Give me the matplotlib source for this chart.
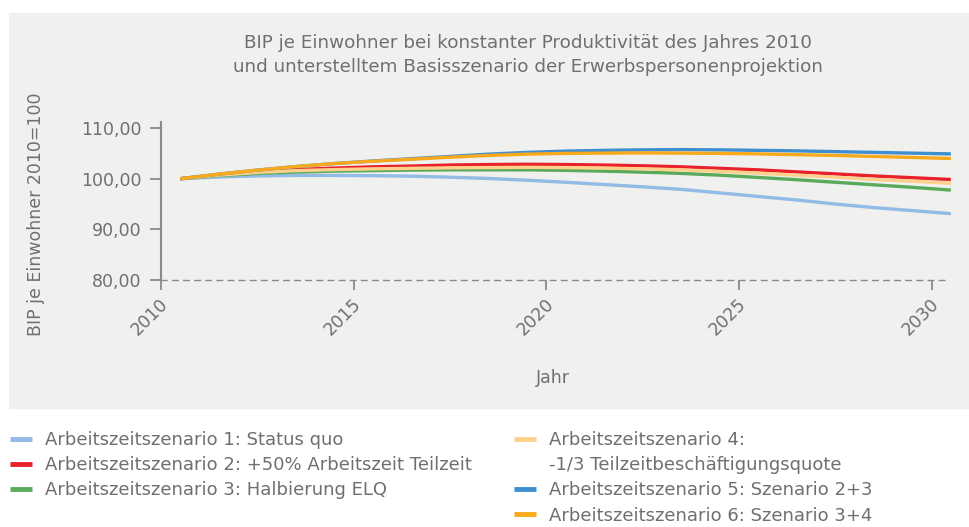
import matplotlib.pyplot as plt
import matplotlib.transforms as mtransforms
from matplotlib.patches import Rectangle
from matplotlib.lines import Line2D

plt.rcParams['font.family'] = ['DejaVu Sans']

# Data (index 2010 = 100)
years = list(range(2010, 2031))
sz1 = [100, 100.35, 100.55, 100.65, 100.65, 100.6, 100.5, 100.3, 100.05, 99.7, 99.3,
       98.85, 98.4, 97.9, 97.2, 96.5, 95.8, 95.0, 94.3, 93.7, 93.1]
sz2 = [100, 100.8, 101.4, 101.8, 102.1, 102.35, 102.5, 102.7, 102.8, 102.85, 102.8,
       102.7, 102.55, 102.35, 102.05, 101.75, 101.35, 100.95, 100.55, 100.2, 99.85]
sz3 = [100, 100.6, 101.05, 101.3, 101.5, 101.6, 101.7, 101.75, 101.75, 101.75, 101.65,
       101.5, 101.3, 101.05, 100.7, 100.25, 99.8, 99.3, 98.8, 98.3, 97.75]
sz4 = [100, 100.7, 101.25, 101.6, 101.8, 101.95, 102.05, 102.15, 102.2, 102.25, 102.2,
       102.1, 101.95, 101.75, 101.45, 101.1, 100.7, 100.3, 99.85, 99.5, 99.1]
sz5 = [100, 100.9, 101.7, 102.4, 103.0, 103.5, 103.95, 104.4, 104.85, 105.2, 105.45,
       105.6, 105.7, 105.75, 105.7, 105.6, 105.5, 105.35, 105.2, 105.05, 104.9]
sz6 = [100, 100.9, 101.7, 102.4, 103.0, 103.45, 103.85, 104.25, 104.6, 104.85, 105.0,
       105.05, 105.1, 105.05, 105.0, 104.9, 104.75, 104.6, 104.4, 104.2, 104.0]

labels = [
    "Arbeitszeitszenario 1: Status quo",
    "Arbeitszeitszenario 2: +50% Arbeitszeit Teilzeit",
    "Arbeitszeitszenario 3: Halbierung ELQ",
    "Arbeitszeitszenario 4:\n-1/3 Teilzeitbeschäftigungsquote",
    "Arbeitszeitszenario 5: Szenario 2+3",
    "Arbeitszeitszenario 6: Szenario 3+4",
]
colors = ['#92bbe6', '#e8212b', '#5aaa5c', '#fdd18c', '#3d8fd0', '#f8aa1c']
series = [sz1, sz2, sz3, sz4, sz5, sz6]

textc = '#6f6f6f'
axc = '#8a8a8a'
fs = 12.5

fig = plt.figure(figsize=(9.7, 5.27), dpi=100)
fig.patches.append(Rectangle((9 / 970, 1 - 408 / 527), 1 - 9 / 970, (408 - 13) / 527,
                             transform=fig.transFigure, color='#f0f0ef', zorder=-10))

ax = fig.add_axes([161 / 970, 1 - 280 / 527, (947 - 161) / 970, (280 - 122) / 527])
ax.set_facecolor('none')

xs = [y + 0.5 for y in years]  # points sit mid-year
handles = []
for vals, col, lab in zip(series, colors, labels):
    ln, = ax.plot(xs, vals, color=col, lw=2.4, label=lab, clip_on=False, solid_capstyle='butt')
    handles.append(ln)

ax.set_xlim(2010, 2030.4)
ax.set_ylim(80, 111.2)
ax.set_xticks([2010, 2015, 2020, 2025, 2030])
ax.set_yticks([80, 90, 100, 110])
ax.set_yticklabels(['80,00', '90,00', '100,00', '110,00'])

for s in ['top', 'right']:
    ax.spines[s].set_visible(False)
ax.spines['left'].set_color(axc)
ax.spines['left'].set_linewidth(1.5)
ax.spines['bottom'].set_color(axc)
ax.spines['bottom'].set_linewidth(1.0)
ax.spines['bottom'].set_linestyle((0, (4, 4)))

ax.tick_params(axis='y', length=8, width=1.3, color=axc, labelsize=fs, labelcolor=textc, pad=6)
ax.tick_params(axis='x', length=7, width=1.3, color=axc, labelsize=fs, labelcolor=textc, pad=4)
offset = mtransforms.ScaledTranslation(-11 / 100, 0, fig.dpi_scale_trans)
for t in ax.get_xticklabels():
    t.set_rotation(45)
    t.set_transform(t.get_transform() + offset)

fig.text(528 / 970, 1 - 55 / 527,
         "BIP je Einwohner bei konstanter Produktivität des Jahres 2010\n"
         "und unterstelltem Basisszenario der Erwerbspersonenprojektion",
         ha='center', va='center', fontsize=13.2, color=textc, linespacing=1.5)
fig.text(553 / 970, 1 - 378 / 527, "Jahr", ha='center', va='center', fontsize=fs, color=textc)
fig.text(36 / 970, 1 - 214 / 527, "BIP je Einwohner 2010=100", rotation=90,
         ha='center', va='center', fontsize=fs, color=textc)

# legend: two independent columns; scenario 4 label wraps onto a handle-less row
leg_kw = dict(loc='upper left', frameon=False, fontsize=13, handlelength=1.2,
              handletextpad=0.75, labelspacing=0.4, borderaxespad=0, borderpad=0,
              labelcolor=textc)
blank = Line2D([], [], color='none')
l4a, l4b = labels[3].split('\n')
leg1 = fig.legend(handles[:3], labels[:3], bbox_to_anchor=(10 / 970, 1 - 431 / 527), **leg_kw)
leg2 = fig.legend([handles[3], blank, handles[4], handles[5]],
                  [l4a, l4b, labels[4], labels[5]],
                  bbox_to_anchor=(514 / 970, 1 - 431 / 527), **leg_kw)
for lg in (leg1, leg2):
    for h in lg.get_lines():
        h.set_linewidth(3.5)

fig.savefig('out.png', dpi=100)
